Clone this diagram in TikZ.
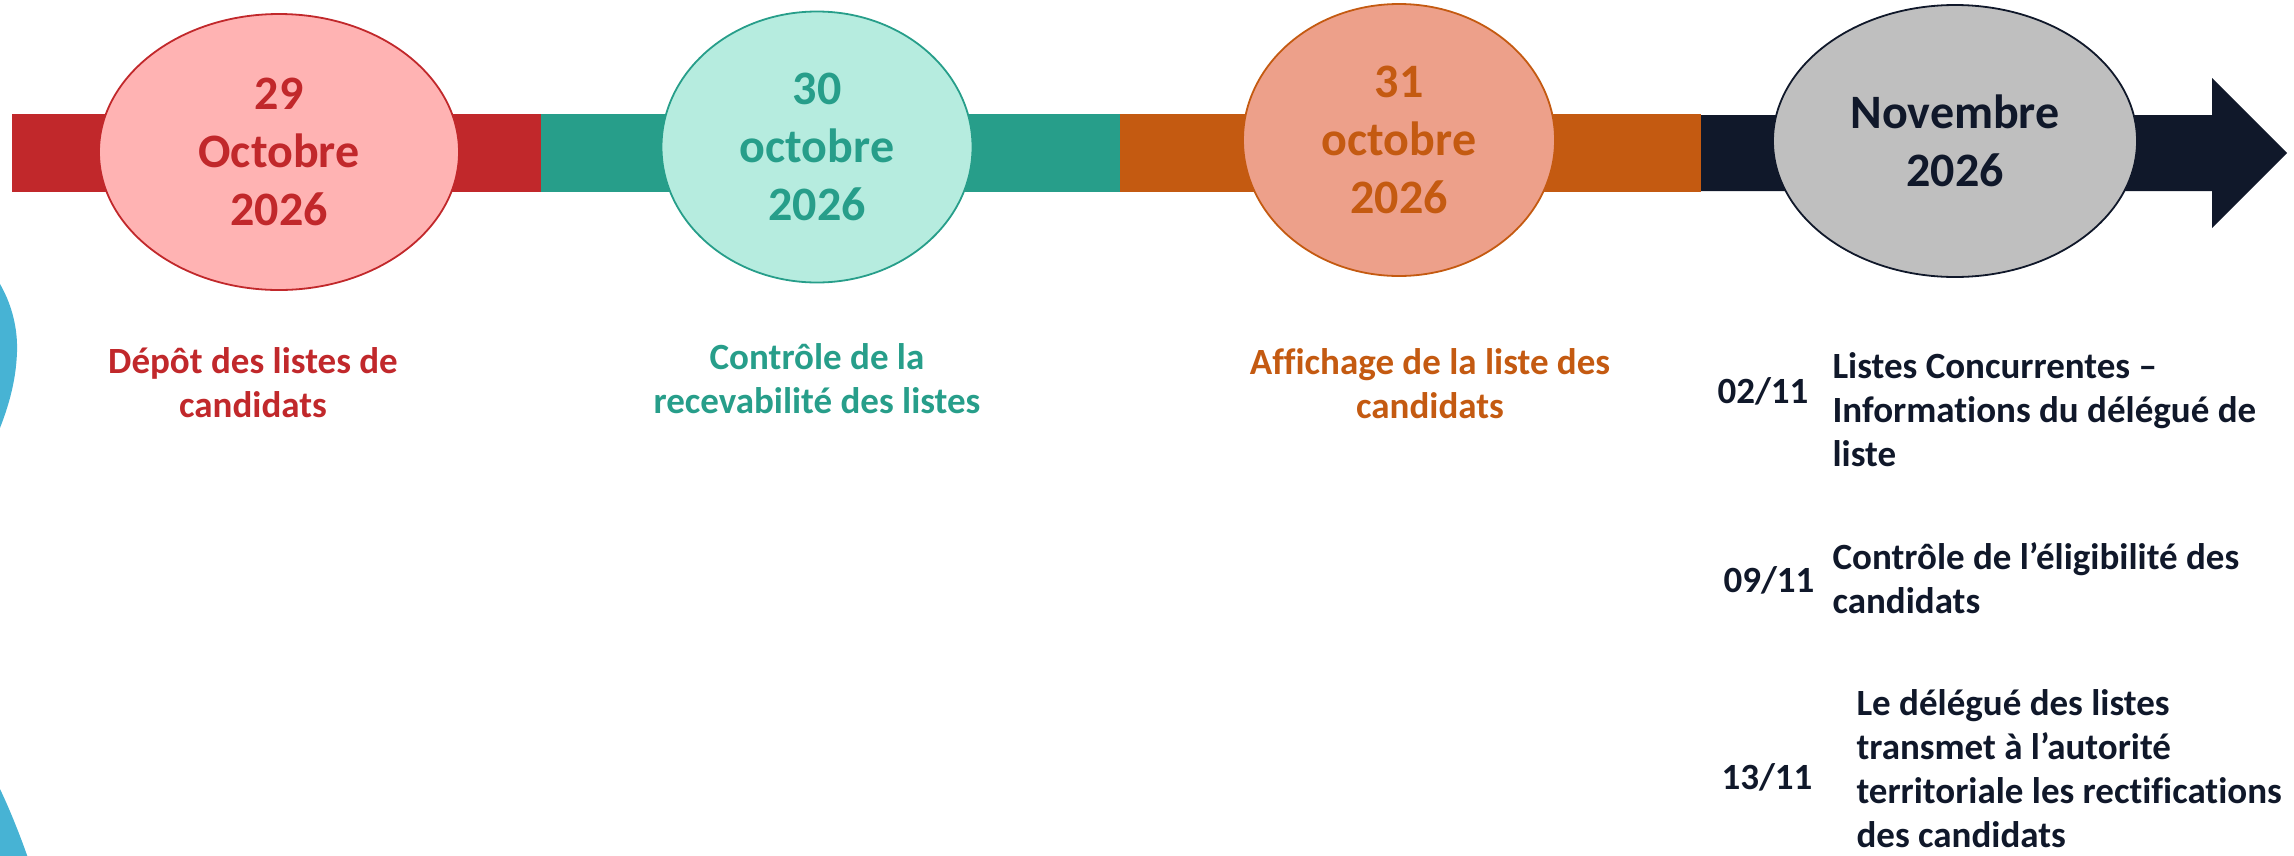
\documentclass[tikz,border=0pt]{standalone}
\usepackage{fontspec}
\setmainfont[Ligatures={NoCommon}]{Carlito}
\usetikzlibrary{shapes.geometric}
\definecolor{cred}{HTML}{C1282B}
\definecolor{cpink}{HTML}{FFB3B3}
\definecolor{cteal}{HTML}{279E8A}
\definecolor{cmint}{HTML}{B6ECDF}
\definecolor{corange}{HTML}{C45A11}
\definecolor{csalmon}{HTML}{EDA08A}
\definecolor{cnavy}{HTML}{10182A}
\definecolor{cgrey}{HTML}{BFBFBF}
\definecolor{cblue}{HTML}{47B3D4}
\tikzset{
  datebubble/.style={ellipse, line width=1.8pt, inner sep=0pt, align=center,
    font=\fontsize{48}{58}\selectfont\bfseries},
  steplabel/.style={align=center, anchor=base,
    font=\fontsize{37}{44}\selectfont\bfseries},
  daytag/.style={anchor=west, text=cnavy,
    font=\fontsize{37}{44}\selectfont\bfseries},
  daytext/.style={align=left, anchor=base west, text=cnavy,
    font=\fontsize{37}{44}\selectfont\bfseries}
}
\begin{document}
\begin{tikzpicture}[x=1pt,y=-1pt]
\useasboundingbox (0,0) rectangle (2294,855);
% decorative blue shapes at the left edge
\fill[cblue] (-5,276) .. controls (10,298) and (18,325) .. (17,352)
  .. controls (16,382) and (8,410) .. (-5,440) -- cycle;
\fill[cblue] (0,789) .. controls (10,810) and (20,835) .. (28,858) -- (0,858) -- cycle;
% timeline band
\fill[cred] (12,114) rectangle (541,192);
\fill[cteal] (541,114) rectangle (1120,192);
\fill[corange] (1120,114) rectangle (1701,192);
\fill[cnavy] (1701,115) -- (2212,115) -- (2212,78) -- (2287,153)
  -- (2212,228) -- (2212,191) -- (1701,191) -- cycle;
% date bubbles
\node[datebubble, draw=cred, fill=cpink, text=cred,
  minimum width=360pt, minimum height=276pt] (e1) at (279,152) {29\\Octobre\\2026};
\node[datebubble, draw=cteal, fill=cmint, text=cteal,
  minimum width=311pt, minimum height=271pt] (e2) at (817,147) {30\\octobre\\2026};
\node[datebubble, draw=corange, fill=csalmon, text=corange,
  minimum width=312pt, minimum height=272pt] (e3) at (1399,140) {31\\octobre\\2026};
\node[datebubble, draw=cnavy, fill=cgrey, text=cnavy,
  minimum width=364pt, minimum height=272pt] (e4) at (1955,141) {Novembre\\2026};
% step labels (anchored at the baseline of their last line)
\node[steplabel, text=cred] (l1) at (253,417) {Dépôt des listes de\\candidats};
\node[steplabel, text=cteal] (l2) at (817,413) {Contrôle de la\\recevabilité des listes};
\node[steplabel, text=corange] (l3) at (1430,418) {Affichage de la liste des\\candidats};
% November items
\node[daytag] (d1) at (1714,391) {02/11};
\node[daytext] (t1) at (1829,466) {Listes Concurrentes –\\Informations du délégué de\\liste};
\node[daytag] (d2) at (1720,580) {09/11};
\node[daytext] (t2) at (1829,613) {Contrôle de l’éligibilité des\\candidats};
\node[daytag] (d3) at (1718,777) {13/11};
\node[daytext] (t3) at (1853,847) {Le délégué des listes\\transmet à l’autorité\\territoriale les rectifications\\des candidats};
\end{tikzpicture}
\end{document}
